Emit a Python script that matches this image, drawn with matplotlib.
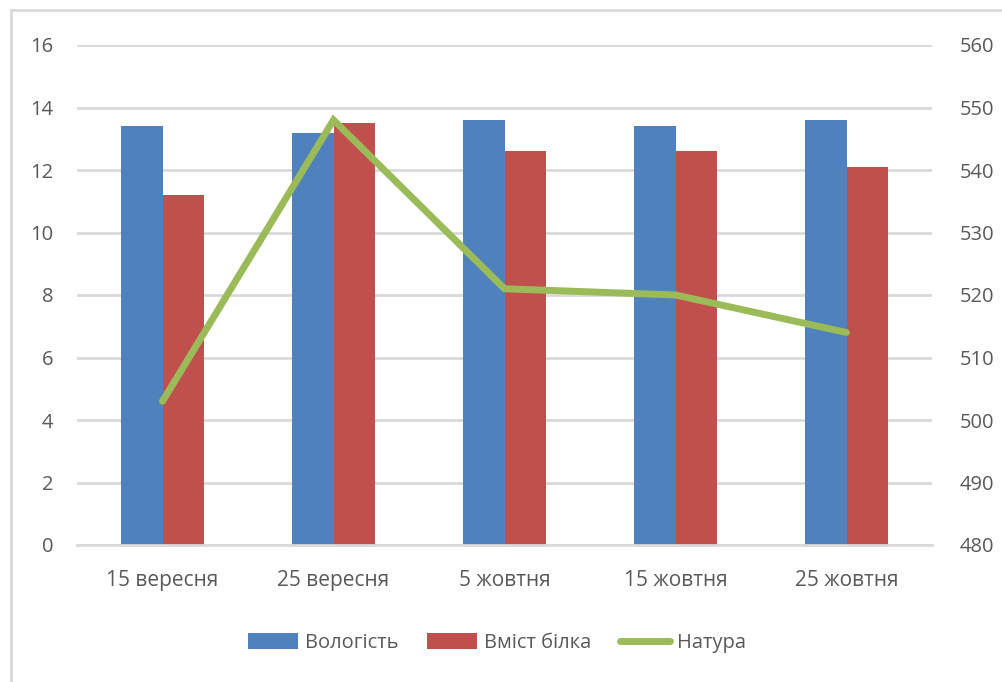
import matplotlib.pyplot as plt
import numpy as np
from matplotlib.lines import Line2D

plt.rcParams['font.family'] = ['Open Sans', 'DejaVu Sans']

dates = ['15 вересня', '25 вересня', '5 жовтня', '15 жовтня', '25 жовтня']
moisture = [13.4, 13.2, 13.6, 13.4, 13.6]
protein = [11.2, 13.5, 12.6, 12.6, 12.1]
natura = [503, 548, 521, 520, 514]

blue = '#4F81BD'
red = '#C0504D'
green = '#9BBB59'
grid_c = '#D9D9D9'
text_c = '#595959'

fig = plt.figure(figsize=(10.02, 6.82), dpi=100)
ax = fig.add_axes([77 / 1002, 137 / 682, 855 / 1002, 500 / 682])

x = np.arange(len(dates))
w = 0.24
ax.bar(x - w / 2, moisture, w, color=blue, label='Вологість', zorder=2)
ax.bar(x + w / 2, protein, w, color=red, label='Вміст білка', zorder=2)

ax.set_xlim(-0.5, len(dates) - 0.5)
ax.set_ylim(0, 16)
ax.set_yticks(np.arange(0, 17, 2))
ax.set_xticks(x)
ax.set_xticklabels(dates)
ax.yaxis.grid(True, color=grid_c, linewidth=2)
ax.set_axisbelow(True)
for s in ['top', 'right', 'left']:
    ax.spines[s].set_visible(False)
ax.spines['bottom'].set_color(grid_c)
ax.spines['bottom'].set_linewidth(2)
ax.tick_params(axis='y', length=0, pad=17, labelsize=14.5, labelcolor=text_c)
ax.tick_params(axis='x', length=0, pad=18, labelsize=15, labelcolor=text_c)

ax2 = ax.twinx()
ax2.plot(x, natura, color=green, linewidth=5, solid_capstyle='round',
         solid_joinstyle='miter', label='Натура')
ax2.set_ylim(480, 560)
ax2.set_yticks(np.arange(480, 561, 10))
for s in ax2.spines.values():
    s.set_visible(False)
ax2.tick_params(axis='y', length=0, pad=20, labelsize=14.5, labelcolor=text_c)

h1, l1 = ax.get_legend_handles_labels()
h2, l2 = ax2.get_legend_handles_labels()
fig.legend(h1 + h2, l1 + l2, loc='center', bbox_to_anchor=(497 / 1002, 39 / 682),
           ncol=3, frameon=False, fontsize=14.5, labelcolor=text_c,
           handlelength=2.5, handleheight=0.8, handletextpad=0.35, columnspacing=1.4)

# outer chart frame
fig.add_artist(Line2D([11 / 1002, 11 / 1002], [0, 1 - 10 / 682], color=grid_c, linewidth=2))
fig.add_artist(Line2D([11 / 1002, 1], [1 - 10 / 682, 1 - 10 / 682], color=grid_c, linewidth=2))

fig.savefig('out.png', dpi=100)
